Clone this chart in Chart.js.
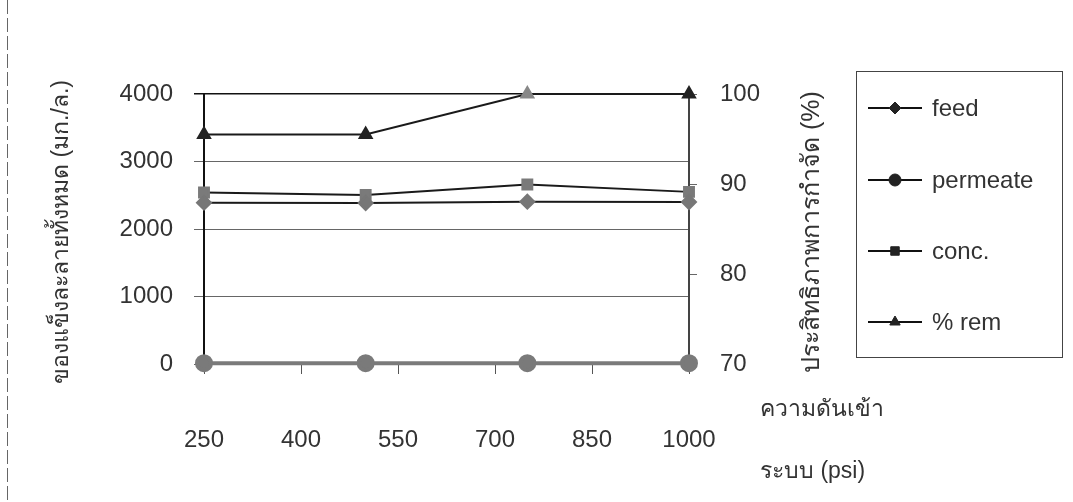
<!DOCTYPE html>
<html>
<head>
<meta charset="utf-8">
<script src="https://cdn.jsdelivr.net/npm/chart.js@4.4.1/dist/chart.umd.min.js"></script>
<style>
  html, body { margin: 0; padding: 0; background: #fff; }
  #wrap { width: 1073px; height: 502px; }
</style>
</head>
<body>
<div id="wrap"><canvas id="chart_tds"></canvas></div>
<script>
// pressure (psi) and measured values
const pressure = [250, 500, 750, 1000];
const feed = [2390, 2385, 2405, 2400];
const permeate = [12, 12, 12, 12];
const conc = [2540, 2505, 2660, 2550];
const removal = [95.5, 95.5, 100, 100];

const xTicks = [250, 400, 550, 700, 850, 1000];
const seriesNames = ['feed', 'permeate', 'conc.', '% rem'];

const FONT = '"Liberation Sans", Arial, "Noto Sans", sans-serif';

const toPoints = vals => vals.map((v, i) => ({x: pressure[i], y: v}));

// axis titles, page edge and the boxed legend
const extras = {
    id: 'extras',
    beforeDraw(chart) {
        const {ctx} = chart;
        ctx.save();
        ctx.fillStyle = '#fff';
        ctx.fillRect(0, 0, chart.width, chart.height);
        ctx.strokeStyle = '#666';
        ctx.lineWidth = 1;
        ctx.setLineDash([14, 4]);
        ctx.beginPath();
        ctx.moveTo(7.5, 0);
        ctx.lineTo(7.5, chart.height);
        ctx.stroke();
        ctx.restore();
    },
    afterDraw(chart) {
        const {ctx} = chart;
        ctx.save();
        ctx.fillStyle = '#333';
        ctx.textAlign = 'center';
        ctx.textBaseline = 'middle';

        ctx.save();
        ctx.font = '23px ' + FONT;
        ctx.translate(62, 232);
        ctx.rotate(-Math.PI / 2);
        ctx.fillText('ของแข็งละลายทั้งหมด (มก./ล.)', 0, 0);
        ctx.restore();

        ctx.save();
        ctx.font = '25px ' + FONT;
        ctx.translate(812, 232);
        ctx.rotate(-Math.PI / 2);
        ctx.fillText('ประสิทธิภาพการกำจัด (%)', 0, 0);
        ctx.restore();

        ctx.font = '23px ' + FONT;
        ctx.textAlign = 'left';
        ctx.fillText('ความดันเข้า', 760, 410);
        ctx.fillText('ระบบ (psi)', 760, 472);

        // legend
        ctx.strokeStyle = '#444';
        ctx.lineWidth = 1;
        ctx.strokeRect(856.5, 71.5, 206, 286);
        const rows = [108, 180, 251, 322];
        chart.data.datasets.forEach((ds, i) => {
            const y = rows[i];
            ctx.strokeStyle = '#111';
            ctx.lineWidth = 2;
            ctx.beginPath();
            ctx.moveTo(868, y);
            ctx.lineTo(922, y);
            ctx.stroke();
            ctx.fillStyle = '#222';
            ctx.strokeStyle = '#222';
            ctx.lineWidth = 1;
            Chart.helpers.drawPoint(ctx, {pointStyle: ds.pointStyle, radius: 6, borderWidth: 1, rotation: 0}, 895, y);
            ctx.fillStyle = '#333';
            ctx.font = '24px ' + FONT;
            ctx.textAlign = 'left';
            ctx.fillText(ds.label, 932, y + 1);
        });
        ctx.restore();
    }
};

const plainTick = v => String(v);

new Chart(document.getElementById('chart_tds'), {
    type: 'line',
    data: {
        datasets: [
            {
                label: seriesNames[0],
                data: toPoints(feed),
                yAxisID: 'y',
                borderColor: '#1a1a1a',
                borderWidth: 2,
                pointStyle: 'rectRot',
                pointRadius: 7,
                pointBackgroundColor: '#777',
                pointBorderColor: '#777',
                clip: false
            },
            {
                label: seriesNames[1],
                data: toPoints(permeate),
                yAxisID: 'y',
                borderColor: '#7a7a7a',
                borderWidth: 4,
                pointStyle: 'circle',
                pointRadius: 7,
                pointBackgroundColor: '#7a7a7a',
                pointBorderColor: '#7a7a7a',
                clip: false
            },
            {
                label: seriesNames[2],
                data: toPoints(conc),
                yAxisID: 'y',
                borderColor: '#1a1a1a',
                borderWidth: 2,
                pointStyle: 'rect',
                pointRadius: 7,
                pointBackgroundColor: '#7a7a7a',
                pointBorderColor: '#7a7a7a',
                clip: false
            },
            {
                label: seriesNames[3],
                data: toPoints(removal),
                yAxisID: 'y1',
                borderColor: '#1a1a1a',
                borderWidth: 2,
                pointStyle: 'triangle',
                pointRadius: 7,
                pointBackgroundColor: ['#222', '#222', '#888', '#222'],
                pointBorderColor: ['#222', '#222', '#888', '#222'],
                clip: false
            }
        ]
    },
    options: {
        responsive: true,
        maintainAspectRatio: false,
        animation: false,
        layout: {padding: {top: 94, left: 0, right: 0, bottom: 0}},
        plugins: {legend: {display: false}, tooltip: {enabled: false}},
        scales: {
            x: {
                type: 'linear',
                min: 250,
                max: 1000,
                afterBuildTicks: s => { s.ticks = xTicks.map(v => ({value: v})); },
                afterFit: s => { s.height = 138; },
                grid: {drawOnChartArea: false, color: '#555', tickLength: 10},
                border: {color: '#333', width: 1},
                ticks: {color: '#333', font: {family: FONT, size: 24}, padding: 52, maxRotation: 0, callback: plainTick}
            },
            y: {
                position: 'left',
                min: 0,
                max: 4000,
                afterFit: s => { s.width = 204; },
                grid: {
                    color: c => (c.tick && c.tick.value === 4000 ? '#111' : '#666'),
                    lineWidth: c => (c.tick && c.tick.value === 4000 ? 1.5 : 1),
                    tickLength: 10
                },
                border: {color: '#111', width: 2},
                ticks: {stepSize: 1000, color: '#333', font: {family: FONT, size: 24}, padding: 21, callback: plainTick}
            },
            y1: {
                position: 'right',
                min: 70,
                max: 100,
                afterFit: s => { s.width = 384; },
                grid: {drawOnChartArea: false, color: '#666', tickLength: 8},
                border: {color: '#444', width: 2},
                ticks: {stepSize: 10, color: '#333', font: {family: FONT, size: 24}, padding: 23, callback: plainTick}
            }
        }
    },
    plugins: [extras]
});
</script>
</body>
</html>
